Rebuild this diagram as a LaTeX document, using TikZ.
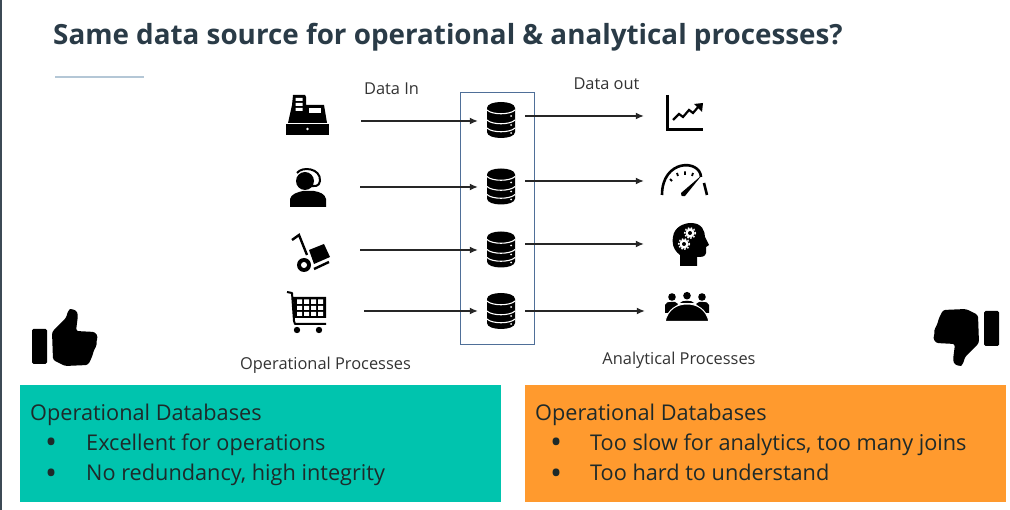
\documentclass[tikz,border=0pt]{standalone}
\usepackage{fontspec}
\setmainfont{Open Sans}
\usetikzlibrary{arrows.meta, positioning, calc}
\definecolor{ink}{HTML}{2A3B47}
\definecolor{label}{HTML}{333333}
\definecolor{boxline}{HTML}{4F6F98}
\definecolor{rulecol}{HTML}{B4C7D6}
\definecolor{edgecol}{HTML}{3C4A55}
\definecolor{good}{HTML}{00C4AE}
\definecolor{bad}{HTML}{FF9A2E}
\definecolor{boxtext}{HTML}{1E2A2A}
\tikzset{
  every node/.style = {text=label},
  dshead/.style  = {font=\fontsize{27.8}{32}\selectfont\bfseries, text=ink, anchor=base west, inner sep=0pt},
  dscap/.style   = {font=\fontsize{16.4}{19}\selectfont, anchor=base, inner sep=0pt},
  dsicon/.style  = {minimum height=36, inner sep=0pt},
  dsgo/.style    = {-{Latex[length=8pt,width=7pt]}, draw=black!85, line width=1.3pt},
  dsgood/.style  = {fill=good, draw=none, minimum width=481, minimum height=117, inner sep=0pt, anchor=north west},
  dsbad/.style   = {fill=bad, draw=none, minimum width=481, minimum height=117, inner sep=0pt, anchor=north west},
  dstext/.style  = {font=\fontsize{21.7}{26}\selectfont, text=boxtext, anchor=base west, inner sep=0pt},
  dsdot/.style   = {font=\fontsize{32}{36}\selectfont, text=boxtext, anchor=base west, inner sep=0pt},
  dbicon/.pic = {
    \fill (-14,-12) .. controls (-14,-20) and (14,-20) .. (14,-12) -- (14,12)
      .. controls (14,20) and (-14,20) .. (-14,12) -- cycle;
    \draw[white, line width=1.1] (-14,-10) .. controls (-9,-5) and (9,-5) .. (14,-10);
    \draw[white, line width=1.1] (-14,0) .. controls (-9,5) and (9,5) .. (14,0);
    \draw[white, line width=1.1] (-14,8) .. controls (-9,13) and (9,13) .. (14,8);
    \fill[white] (10,-4) circle (1) (10,5) circle (1) (10,13) circle (1);
  },
  registericon/.pic = {
    \fill (7,0) -- (19,0) -- (20,2) -- (20,10) -- (38,10) -- (41,28) -- (2,28) -- (6,10) -- cycle;
    \fill (0,29.5) -- (43,29.5) -- (43,40) -- (0,40) -- cycle;
    \fill[white] (23,13) rectangle (35,18);
    \fill[white] (9.5,3) rectangle (16.5,6) (9.5,8) rectangle (16.5,11) (9.5,13) rectangle (16.5,16);
    \fill[white] (21.5,34) circle (1.3);
  },
  agenticon/.pic = {
    \fill (15,14) circle (9);
    \draw[line width=2] (7,6) .. controls (12,-1) and (31,1) .. (30,14) .. controls (29,20) and (25,19) .. (20,19);
    \fill (0,40) -- (0,32) .. controls (1,27) and (8,25) .. (13,24) -- (24,24)
      .. controls (30,25) and (35,27) .. (36,32) -- (36,40) -- cycle;
  },
  dollyicon/.pic = {
    \draw[line width=2.4] (1,7) -- (8,2) -- (16,22);
    \fill (13,32) circle (7);
    \fill[white] (13,32) circle (3);
    \fill (18,17) -- (33,11) -- (39,24) -- (23,31) -- cycle;
    \draw[line width=2.4] (23,36) -- (38,29);
  },
  carticon/.pic = {
    \draw[line width=2, line join=round] (0,1) -- (5,2) -- (7,30) -- (8,33) -- (39,33);
    \fill (6,6) -- (39,6) -- (39,27) -- (7,27) -- cycle;
    \fill[white] (10,8.5) rectangle (15,13) (17,8.5) rectangle (22,13) (24,8.5) rectangle (29,13) (31,8.5) rectangle (36,13);
    \fill[white] (10,15) rectangle (15,19) (17,15) rectangle (22,19) (24,15) rectangle (29,19) (31,15) rectangle (36,19);
    \fill[white] (10,21) rectangle (15,25) (17,21) rectangle (22,25) (24,21) rectangle (29,25) (31,21) rectangle (36,25);
    \fill (10,39) circle (3.2) (32,39) circle (3.2);
  },
  charticon/.pic = {
    \draw[line width=2.6] (1.5,0) -- (1.5,34.5) -- (37,34.5);
    \draw[line width=2.2] (7,25) -- (13,19) -- (17,22) -- (23,15) -- (27,18) -- (33,11);
    \fill (28,9) -- (37,8) -- (36,17) -- cycle;
  },
  gaugeicon/.pic = {
    \draw[line width=2.6] (1,27) .. controls (1,-9) and (39,-9) .. (40,9);
    \draw[line width=2.6] (43,15) -- (46,27);
    \draw[line width=1.8] (9,11) -- (11,13) (16,5) -- (17,8) (24,3.5) -- (24,7) (32,5) -- (31,8);
    \fill (20,25) -- (41,7) -- (24,28) .. controls (21,29) and (19,27) .. (20,25) -- cycle;
  },
  headicon/.pic = {
    \fill (8,43) -- (8,32) .. controls (0,26) and (0,18) .. (1,14) .. controls (2,4) and (12,0) .. (19,0)
      .. controls (30,0) and (33,8) .. (33,14) -- (37,22) -- (34,24) -- (34,30)
      .. controls (33,34) and (30,34) .. (25,34) -- (25,43) -- cycle;
    \fill[white] (18,10) circle (4.6) (12,21) circle (4.6);
    \draw[white, line width=1.4, dash pattern=on 1.6 off 1.6] (18,10) circle (5.4) (12,21) circle (5.4);
    \fill (18,10) circle (2) (12,21) circle (2);
  },
  meetingicon/.pic = {
    \fill (7,5) circle (3.8) (22,3.7) circle (3.8) (37,5) circle (3.8);
    \fill (0,21) -- (0,13) .. controls (1,10) and (3,10) .. (6,10) -- (10,10) -- (13,12) -- (4,21) -- cycle;
    \fill (44,21) -- (44,13) .. controls (43,10) and (41,10) .. (38,10) -- (34,10) -- (31,12) -- (40,21) -- cycle;
    \fill (15,11) .. controls (16,8) and (28,8) .. (29,11) -- cycle;
    \fill[draw=white, line width=1] (0,29.5) .. controls (3,17) and (12,12) .. (22,12)
      .. controls (32,12) and (41,17) .. (44,29.5) -- cycle;
  },
  thumbicon/.pic = {
    \fill[rounded corners=1.5] (0,20) rectangle (15,55);
    \fill[rounded corners=2.5] (20,23) -- (34,9) -- (36,2) .. controls (38,0) and (44,0) .. (46,6)
      -- (44,22) -- (63,23) -- (66,28) -- (64,33) -- (65,36) -- (62,41) -- (60,48) -- (56,56) -- (33,57) -- (21,51) -- cycle;
  },
}

\begin{document}
\begin{tikzpicture}[x=1pt, y=-1pt]
\useasboundingbox (0,0) rectangle (1010,510);

\fill[edgecol] (0,0) rectangle (2,510);
\node[dshead] (title) at (53,45) {Same data source for operational \& analytical processes?};
\fill[rulecol] (55,76.5) rectangle (144,78.5);

\node[dscap] (datain)  at (391.5,94.5) {Data In};
\node[dscap] (dataout) at (606.5,89.5) {Data out};

\draw[boxline, line width=1] (460,93) rectangle (534,345);

% icon slots, the connectors end on their edges
\node[dsicon, minimum width=108] (till)   at (307,121) {};
\node[dsicon, minimum width=106] (agent)  at (307,187) {};
\node[dsicon, minimum width=106] (dolly)  at (307,250) {};
\node[dsicon, minimum width=114] (cart)   at (307,311) {};
\node[dsicon, minimum width=47]  (db1)    at (501.5,120) {};
\node[dsicon, minimum width=47]  (db2)    at (501.5,186.5) {};
\node[dsicon, minimum width=47]  (db3)    at (501.5,249.5) {};
\node[dsicon, minimum width=47]  (db4)    at (501.5,311) {};
\node[dsicon, minimum width=82]  (chart)  at (685,116) {};
\node[dsicon, minimum width=82]  (gauge)  at (685,181) {};
\node[dsicon, minimum width=82]  (head)   at (685,244) {};
\node[dsicon, minimum width=80]  (people) at (685,311) {};

\pic at (501,120)   {dbicon};
\pic at (501,186.5) {dbicon};
\pic at (501,249.5) {dbicon};
\pic at (501,311)   {dbicon};

\pic at (286,95)  {registericon};
\pic at (290,167) {agenticon};
\pic at (291,233) {dollyicon};
\pic at (287,291) {carticon};
\pic at (666,95)  {charticon};
\pic at (661,168) {gaugeicon};
\pic at (672,223) {headicon};
\pic at (665,292) {meetingicon};

\draw[dsgo] (till.east)  -- (till.east -| db1.west);
\draw[dsgo] (agent.east) -- (agent.east -| db2.west);
\draw[dsgo] (dolly.east) -- (dolly.east -| db3.west);
\draw[dsgo] (cart.east)  -- (cart.east -| db4.west);
\draw[dsgo] (db1.east |- chart.west)  -- (chart.west);
\draw[dsgo] (db2.east |- gauge.west)  -- (gauge.west);
\draw[dsgo] (db3.east |- head.west)   -- (head.west);
\draw[dsgo] (db4.east |- people.west) -- (people.west);

\node[dscap] (opproc) at (325.5,369.5) {Operational Processes};
\node[dscap] (anproc) at (679,364.5)   {Analytical Processes};

\pic at (32,309) {thumbicon};
\pic[rotate=180] at (999,366) {thumbicon};

\node[dsgood] (pros) at (20,385) {};
\node[dsbad]  (cons) at (525,385) {};

\node[dstext] (prosh) at (30,421)  {Operational Databases};
\node[dsdot]  (pro1b) at (45,454)  {•};
\node[dstext] (pro1)  at (86,451)  {Excellent for operations};
\node[dsdot]  (pro2b) at (45,485)  {•};
\node[dstext] (pro2)  at (86,481)  {No redundancy, high integrity};
\node[dstext] (consh) at (535,421) {Operational Databases};
\node[dsdot]  (con1b) at (550,454) {•};
\node[dstext] (con1)  at (590,451) {Too slow for analytics, too many joins};
\node[dsdot]  (con2b) at (550,485) {•};
\node[dstext] (con2)  at (590,481) {Too hard to understand};
\end{tikzpicture}
\end{document}
